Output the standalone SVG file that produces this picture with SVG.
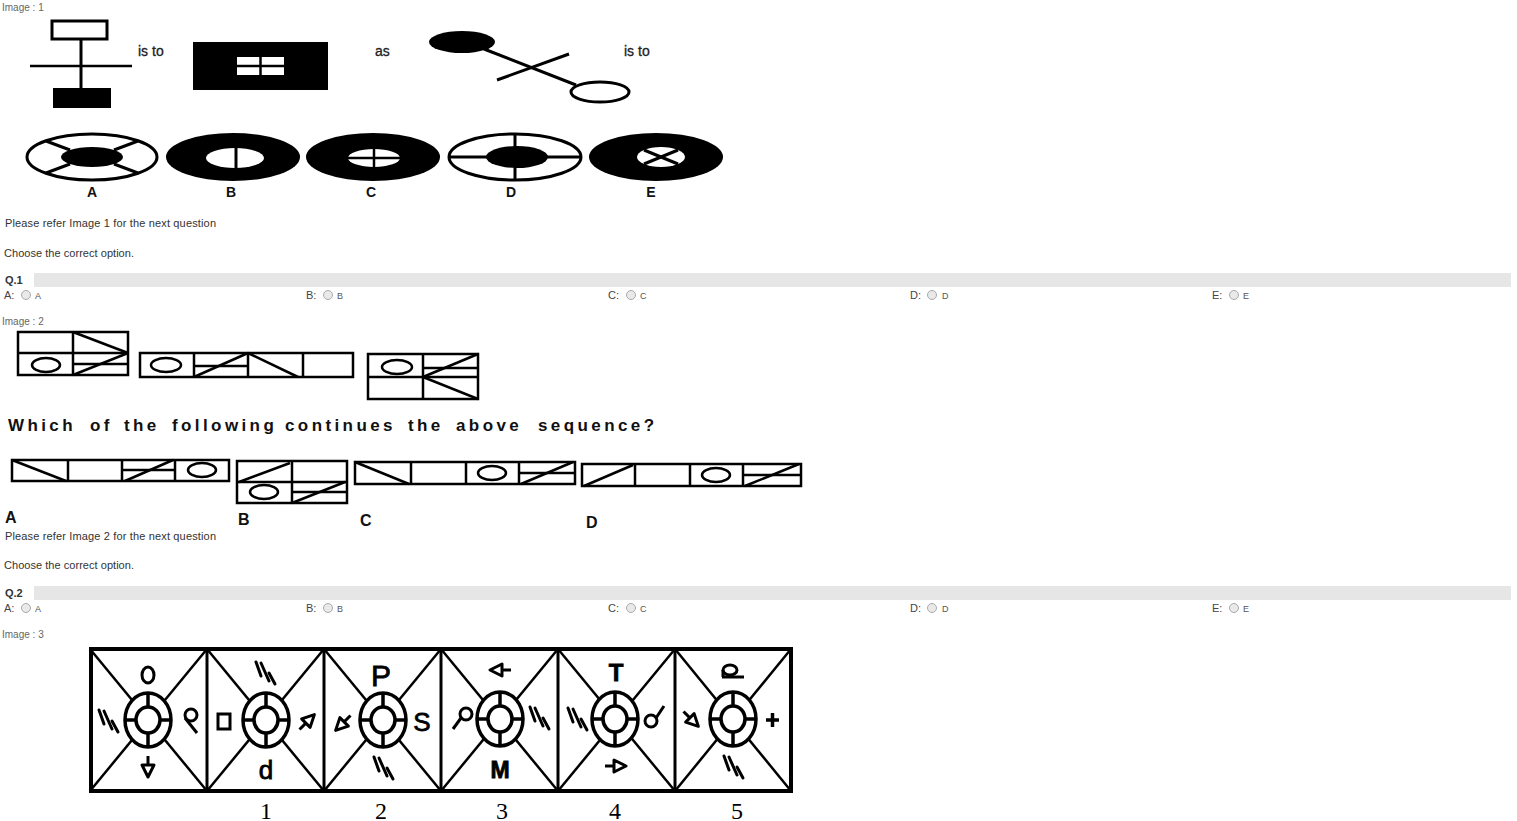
<svg xmlns="http://www.w3.org/2000/svg" xmlns:xlink="http://www.w3.org/1999/xlink" width="1517" height="821" viewBox="0 0 1517 821">
<style>
.lbl{font-family:"Liberation Sans",Arial,sans-serif;font-size:10px;fill:#666}
.txt{font-family:"Liberation Sans",Arial,sans-serif;font-size:11px;fill:#333}
.q{font-family:"Liberation Sans",Arial,sans-serif;font-size:11px;font-weight:bold;fill:#333}
.opt{font-family:"Liberation Sans",Arial,sans-serif;font-size:11px;fill:#444}
.sm{font-family:"Liberation Sans",Arial,sans-serif;font-size:9px;fill:#555}
.fig{font-family:"Liberation Sans",Arial,sans-serif;font-size:14px;fill:#222;stroke:#222;stroke-width:0.3}
.olb{font-family:"Liberation Sans",Arial,sans-serif;font-size:14px;font-weight:bold;fill:#111}
.big{font-family:"Liberation Sans",Arial,sans-serif;font-size:16px;font-weight:bold;fill:#111}
.sym{font-family:"Liberation Sans",Arial,sans-serif;fill:#000;stroke:#000;stroke-width:0.8}
.num{font-family:"Liberation Serif","Times New Roman",serif;font-size:24px;fill:#000}
.ln{stroke:#000;stroke-width:2.5;fill:none}
.th{stroke:#000;stroke-width:3;fill:none}
.radio{fill:#e9e9e9;stroke:#aaa;stroke-width:1}
.bar{fill:#e6e6e6}
</style>
<defs>
<g id="hat" stroke="#000" stroke-width="3" stroke-linecap="round">
<line x1="-10" y1="-11" x2="-5" y2="3"/>
<line x1="-5" y1="-10" x2="3" y2="8"/>
<line x1="3" y1="0" x2="9" y2="11"/>
</g>
<g id="arr" stroke="#000" stroke-width="3">
<line x1="0" y1="-12" x2="0" y2="-3"/>
<polygon points="-6,-3 6,-3 0,9" fill="#fff" stroke-linejoin="round"/>
</g>
<g id="ring" stroke="#000" stroke-width="3.5">
<ellipse cx="0" cy="0" rx="23" ry="27" fill="#fff"/>
<ellipse cx="0" cy="0" rx="12" ry="13" fill="#fff"/>
<line x1="0" y1="-27" x2="0" y2="-13"/>
<line x1="0" y1="13" x2="0" y2="27"/>
<line x1="-23" y1="0" x2="-12" y2="0"/>
<line x1="12" y1="0" x2="23" y2="0"/>
</g>
</defs>
<rect width="1517" height="821" fill="#fff"/>

<!-- Image 1 -->
<g id="image1">
<text class="lbl" x="2" y="11">Image : 1</text>
<rect x="52" y="21" width="55" height="18" class="th" stroke-width="3.5"/>
<line x1="81" y1="39" x2="81" y2="89" class="th"/>
<line x1="30" y1="66" x2="132" y2="66" class="ln" stroke-width="2"/>
<rect x="53" y="88" width="58" height="20" fill="#000"/>
<text class="fig" x="138" y="56">is to</text>
<rect x="193" y="42" width="135" height="48" fill="#000"/>
<rect x="237" y="57" width="47" height="18" fill="#fff"/>
<line x1="260.5" y1="57" x2="260.5" y2="75" stroke="#000" stroke-width="2.5"/>
<line x1="237" y1="66" x2="284" y2="66" stroke="#000" stroke-width="2.5"/>
<text class="fig" x="375" y="56">as</text>
<ellipse cx="462" cy="42" rx="33" ry="11" fill="#000"/>
<line x1="484" y1="49" x2="576" y2="85" class="th"/>
<line x1="497" y1="80" x2="569" y2="54" class="th"/>
<ellipse cx="600" cy="92" rx="29" ry="10" class="th" fill="#fff"/>
<text class="fig" x="624" y="56">is to</text>
</g>

<g id="image1-options">
<g id="opt1A">
<ellipse cx="92" cy="157" rx="65" ry="23" fill="#fff" stroke="#000" stroke-width="3"/>
<line x1="46" y1="141" x2="70" y2="150" class="th"/>
<line x1="138" y1="141" x2="114" y2="150" class="th"/>
<line x1="46" y1="173" x2="70" y2="164" class="th"/>
<line x1="138" y1="173" x2="114" y2="164" class="th"/>
<ellipse cx="92" cy="157" rx="31" ry="10" fill="#000"/>
<text class="olb" x="92" y="197" text-anchor="middle">A</text>
</g>
<g id="opt1B">
<ellipse cx="233" cy="157" rx="67" ry="24" fill="#000"/>
<ellipse cx="235" cy="158" rx="29" ry="10" fill="#fff"/>
<line x1="236" y1="147" x2="236" y2="169" stroke="#000" stroke-width="3"/>
<text class="olb" x="231" y="197" text-anchor="middle">B</text>
</g>
<g id="opt1C">
<ellipse cx="373" cy="157" rx="67" ry="24" fill="#000"/>
<ellipse cx="374" cy="158" rx="26" ry="9" fill="#fff"/>
<line x1="374" y1="148" x2="374" y2="168" stroke="#000" stroke-width="2.5"/>
<line x1="347" y1="158" x2="401" y2="158" stroke="#000" stroke-width="2.5"/>
<text class="olb" x="371" y="197" text-anchor="middle">C</text>
</g>
<g id="opt1D">
<ellipse cx="515" cy="157" rx="66" ry="23" fill="#fff" stroke="#000" stroke-width="3"/>
<line x1="449" y1="157" x2="581" y2="157" class="th"/>
<line x1="515" y1="134" x2="515" y2="180" class="th"/>
<ellipse cx="517" cy="157" rx="31" ry="11" fill="#000"/>
<text class="olb" x="511" y="197" text-anchor="middle">D</text>
</g>
<g id="opt1E">
<ellipse cx="656" cy="157" rx="67" ry="24" fill="#000"/>
<ellipse cx="661" cy="157" rx="24" ry="10" fill="#fff"/>
<line x1="644" y1="150" x2="678" y2="164" stroke="#000" stroke-width="3"/>
<line x1="644" y1="164" x2="678" y2="150" stroke="#000" stroke-width="3"/>
<text class="olb" x="651" y="197" text-anchor="middle">E</text>
</g>
</g>

<g id="q1">
<text class="txt" x="5" y="227" textLength="211">Please refer Image 1 for the next question</text>
<text class="txt" x="4" y="257" textLength="130">Choose the correct option.</text>
<rect class="bar" x="34" y="273" width="1477" height="14"/>
<text class="q" x="5" y="284">Q.1</text>
<text class="opt" x="4" y="299">A:</text><circle class="radio" cx="26" cy="295" r="4.5"/><text class="sm" x="35" y="299">A</text>
<text class="opt" x="306" y="299">B:</text><circle class="radio" cx="328" cy="295" r="4.5"/><text class="sm" x="337" y="299">B</text>
<text class="opt" x="608" y="299">C:</text><circle class="radio" cx="631" cy="295" r="4.5"/><text class="sm" x="640" y="299">C</text>
<text class="opt" x="910" y="299">D:</text><circle class="radio" cx="932" cy="295" r="4.5"/><text class="sm" x="942" y="299">D</text>
<text class="opt" x="1212" y="299">E:</text><circle class="radio" cx="1234" cy="295" r="4.5"/><text class="sm" x="1243" y="299">E</text>
</g>

<!-- Image 2 -->
<g id="image2">
<text class="lbl" x="2" y="325">Image : 2</text>
<g id="seq1">
<rect x="18" y="332" width="110" height="43" class="ln"/>
<line x1="73" y1="332" x2="73" y2="375" class="ln"/>
<line x1="18" y1="353" x2="128" y2="353" class="ln"/>
<line x1="73" y1="332" x2="128" y2="353" class="ln"/>
<ellipse cx="46" cy="365" rx="14" ry="7" class="ln"/>
<line x1="73" y1="364" x2="128" y2="364" class="ln"/>
<line x1="73" y1="375" x2="128" y2="353" class="ln"/>
</g>
<g id="seq2">
<rect x="140" y="353" width="213" height="24" class="ln"/>
<line x1="194" y1="353" x2="194" y2="377" class="ln"/>
<line x1="248" y1="353" x2="248" y2="377" class="ln"/>
<line x1="303" y1="353" x2="303" y2="377" class="ln"/>
<ellipse cx="166" cy="365" rx="15" ry="7" class="ln"/>
<line x1="194" y1="366" x2="248" y2="366" class="ln"/>
<line x1="194" y1="377" x2="248" y2="353" class="ln"/>
<line x1="248" y1="353" x2="298" y2="377" class="ln"/>
</g>
<g id="seq3">
<rect x="368" y="354" width="110" height="45" class="ln"/>
<line x1="423" y1="354" x2="423" y2="399" class="ln"/>
<line x1="368" y1="377" x2="478" y2="377" class="ln"/>
<ellipse cx="397" cy="367" rx="15" ry="7" class="ln"/>
<line x1="423" y1="368" x2="478" y2="368" class="ln"/>
<line x1="423" y1="377" x2="478" y2="354" class="ln"/>
<line x1="423" y1="377" x2="478" y2="399" class="ln"/>
</g>
<text y="431" font-family="'Liberation Sans',Arial,sans-serif" font-size="17" font-weight="bold" fill="#111" letter-spacing="3.4"><tspan x="8">Which</tspan> <tspan x="90">of</tspan> <tspan x="124">the</tspan> <tspan x="172">following</tspan> <tspan x="285">continues</tspan> <tspan x="408">the</tspan> <tspan x="456">above</tspan> <tspan x="538">sequence?</tspan></text>
<g id="opt2A">
<rect x="12" y="460" width="217" height="21" class="ln"/>
<line x1="68" y1="460" x2="68" y2="481" class="ln"/>
<line x1="122" y1="460" x2="122" y2="481" class="ln"/>
<line x1="175" y1="460" x2="175" y2="481" class="ln"/>
<line x1="12" y1="460" x2="66" y2="481" class="ln"/>
<line x1="122" y1="470" x2="175" y2="470" class="ln"/>
<line x1="125" y1="481" x2="173" y2="460" class="ln"/>
<ellipse cx="202" cy="470" rx="14" ry="7" class="ln"/>
<text class="big" x="5" y="523">A</text>
</g>
<g id="opt2B">
<rect x="237" y="461" width="110" height="42" class="ln"/>
<line x1="292" y1="461" x2="292" y2="503" class="ln"/>
<line x1="237" y1="482" x2="347" y2="482" class="ln"/>
<line x1="239" y1="482" x2="290" y2="463" class="ln"/>
<ellipse cx="264" cy="492" rx="14" ry="7" class="ln"/>
<line x1="292" y1="492" x2="347" y2="492" class="ln"/>
<line x1="292" y1="503" x2="345" y2="482" class="ln"/>
<text class="big" x="238" y="525">B</text>
</g>
<g id="opt2C">
<rect x="355" y="462" width="220" height="22" class="ln"/>
<line x1="411" y1="462" x2="411" y2="484" class="ln"/>
<line x1="466" y1="462" x2="466" y2="484" class="ln"/>
<line x1="519" y1="462" x2="519" y2="484" class="ln"/>
<line x1="355" y1="462" x2="409" y2="484" class="ln"/>
<ellipse cx="492" cy="473" rx="14" ry="7" class="ln"/>
<line x1="519" y1="473" x2="575" y2="473" class="ln"/>
<line x1="521" y1="484" x2="573" y2="462" class="ln"/>
<text class="big" x="360" y="526">C</text>
</g>
<g id="opt2D">
<rect x="582" y="464" width="219" height="22" class="ln"/>
<line x1="635" y1="464" x2="635" y2="486" class="ln"/>
<line x1="690" y1="464" x2="690" y2="486" class="ln"/>
<line x1="743" y1="464" x2="743" y2="486" class="ln"/>
<line x1="584" y1="486" x2="633" y2="465" class="ln"/>
<ellipse cx="716" cy="475" rx="14" ry="7" class="ln"/>
<line x1="743" y1="475" x2="801" y2="475" class="ln"/>
<line x1="745" y1="486" x2="799" y2="464" class="ln"/>
<text class="big" x="586" y="528">D</text>
</g>
</g>

<g id="q2">
<text class="txt" x="5" y="540" textLength="211">Please refer Image 2 for the next question</text>
<text class="txt" x="4" y="569" textLength="130">Choose the correct option.</text>
<rect class="bar" x="34" y="586" width="1477" height="14"/>
<text class="q" x="5" y="597">Q.2</text>
<text class="opt" x="4" y="612">A:</text><circle class="radio" cx="26" cy="608" r="4.5"/><text class="sm" x="35" y="612">A</text>
<text class="opt" x="306" y="612">B:</text><circle class="radio" cx="328" cy="608" r="4.5"/><text class="sm" x="337" y="612">B</text>
<text class="opt" x="608" y="612">C:</text><circle class="radio" cx="631" cy="608" r="4.5"/><text class="sm" x="640" y="612">C</text>
<text class="opt" x="910" y="612">D:</text><circle class="radio" cx="932" cy="608" r="4.5"/><text class="sm" x="942" y="612">D</text>
<text class="opt" x="1212" y="612">E:</text><circle class="radio" cx="1234" cy="608" r="4.5"/><text class="sm" x="1243" y="612">E</text>
</g>

<!-- Image 3 -->
<g id="image3">
<text class="lbl" x="2" y="638">Image : 3</text>
<g id="strip" stroke="#000" fill="none">
<g stroke-width="2.5">
<line x1="90" y1="649" x2="207" y2="791"/><line x1="207" y1="649" x2="90" y2="791"/>
<line x1="207" y1="649" x2="324" y2="791"/><line x1="324" y1="649" x2="207" y2="791"/>
<line x1="324" y1="649" x2="441" y2="791"/><line x1="441" y1="649" x2="324" y2="791"/>
<line x1="441" y1="649" x2="558" y2="791"/><line x1="558" y1="649" x2="441" y2="791"/>
<line x1="558" y1="649" x2="675" y2="791"/><line x1="675" y1="649" x2="558" y2="791"/>
<line x1="675" y1="649" x2="791" y2="791"/><line x1="791" y1="649" x2="675" y2="791"/>
</g>
<g stroke-width="3">
<line x1="207" y1="649" x2="207" y2="791"/>
<line x1="324" y1="649" x2="324" y2="791"/>
<line x1="441" y1="649" x2="441" y2="791"/>
<line x1="558" y1="649" x2="558" y2="791"/>
<line x1="675" y1="649" x2="675" y2="791"/>
</g>
<rect x="91" y="649" width="700" height="142" stroke-width="4"/>
</g>
<use xlink:href="#ring" href="#ring" x="148" y="720"/>
<use xlink:href="#ring" href="#ring" x="266" y="720"/>
<use xlink:href="#ring" href="#ring" x="383" y="720"/>
<use xlink:href="#ring" href="#ring" x="500" y="719"/>
<use xlink:href="#ring" href="#ring" x="615" y="719"/>
<use xlink:href="#ring" href="#ring" x="733" y="719"/>

<g id="cell0">
<ellipse cx="148" cy="675" rx="6" ry="8" class="th"/>
<use xlink:href="#hat" href="#hat" x="109" y="721"/>
<circle cx="191" cy="715" r="6" class="th"/>
<line x1="185" y1="718" x2="197" y2="733" class="th"/>
<use xlink:href="#arr" href="#arr" transform="translate(148,768)"/>
</g>
<g id="cell1">
<use xlink:href="#hat" href="#hat" x="266" y="673"/>
<rect x="218" y="714" width="12" height="15" class="th"/>
<use xlink:href="#arr" href="#arr" transform="translate(308,721) rotate(-135)"/>
<text class="sym" x="266" y="779" text-anchor="middle" font-size="26">d</text>
</g>
<g id="cell2">
<text class="sym" x="381" y="686" text-anchor="middle" font-size="30">P</text>
<use xlink:href="#arr" href="#arr" transform="translate(342,724) rotate(45)"/>
<text class="sym" x="422" y="731" text-anchor="middle" font-size="26">S</text>
<use xlink:href="#hat" href="#hat" x="384" y="768"/>
</g>
<g id="cell3">
<use xlink:href="#arr" href="#arr" transform="translate(499,670) rotate(90)"/>
<circle cx="466" cy="714" r="6" class="th"/>
<line x1="461" y1="718" x2="453" y2="729" class="th"/>
<use xlink:href="#hat" href="#hat" x="540" y="718"/>
<text class="sym" x="500" y="778" text-anchor="middle" font-size="23" font-weight="bold">M</text>
</g>
<g id="cell4">
<text class="sym" x="616" y="681" text-anchor="middle" font-size="24" font-weight="bold">T</text>
<use xlink:href="#hat" href="#hat" x="578" y="719"/>
<circle cx="651" cy="721" r="6" class="th"/>
<line x1="656" y1="718" x2="664" y2="706" class="th"/>
<use xlink:href="#arr" href="#arr" transform="translate(617,766) rotate(-90)"/>
</g>
<g id="cell5">
<ellipse cx="730" cy="670" rx="7" ry="5" class="th"/>
<line x1="723" y1="670" x2="723" y2="677" class="th"/>
<line x1="722" y1="677" x2="744" y2="677" class="th"/>
<use xlink:href="#arr" href="#arr" transform="translate(692,720) rotate(-45)"/>
<line x1="766" y1="720" x2="779" y2="720" stroke="#000" stroke-width="3.5"/>
<line x1="772.5" y1="713" x2="772.5" y2="727" stroke="#000" stroke-width="3.5"/>
<use xlink:href="#hat" href="#hat" x="734" y="767"/>
</g>
<g id="numbers">
<text class="num" x="266" y="819" text-anchor="middle">1</text>
<text class="num" x="381" y="819" text-anchor="middle">2</text>
<text class="num" x="502" y="819" text-anchor="middle">3</text>
<text class="num" x="615" y="819" text-anchor="middle">4</text>
<text class="num" x="737" y="819" text-anchor="middle">5</text>
</g>
</g>
</svg>
